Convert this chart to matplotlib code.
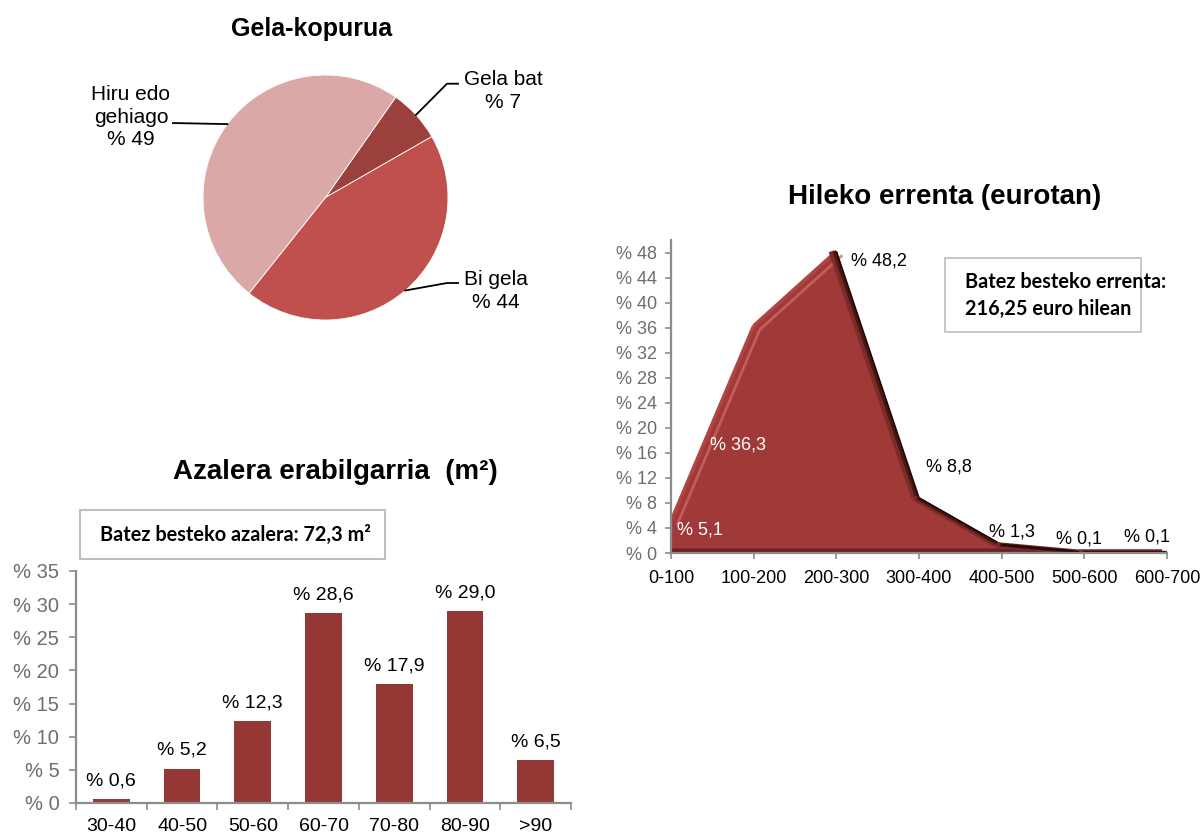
import numpy as np
import matplotlib.pyplot as plt
from matplotlib import transforms
from matplotlib.patches import Rectangle

plt.rcParams['font.family'] = ['Liberation Sans', 'DejaVu Sans']

# --- Gela-kopurua (pie) ---
room_labels = ['Gela bat', 'Bi gela', 'Hiru edo\ngehiago']
room_shares = [7, 44, 49]
room_colors = ['#9C403E', '#C0504D', '#D9A8A7']

# --- Hileko errenta (area) ---
income_bins = ['0-100', '100-200', '200-300', '300-400', '400-500', '500-600', '600-700']
income_shares = [5.1, 36.3, 48.2, 8.8, 1.3, 0.1, 0.1]
income_yticks = list(range(0, 49, 4))

# --- Azalera erabilgarria (bars) ---
area_bins = ['30-40', '40-50', '50-60', '60-70', '70-80', '80-90', '>90']
area_shares = [0.6, 5.2, 12.3, 28.6, 17.9, 29.0, 6.5]
area_yticks = list(range(0, 36, 5))

W, H = 1202, 834
fig = plt.figure(figsize=(W / 100, H / 100), dpi=100)

GRAY_AXIS = '#8C8C8C'
GRAY_TEXT = '#6E6E6E'
BOX_FONT = ['Lato', 'DejaVu Sans']


def rect(l, t, r, b):
    return [l / W, 1 - b / H, (r - l) / W, (b - t) / H]


def fig_xy(x, y):
    return x / W, 1 - y / H


def pct(v, decimals=1):
    return '% ' + f'{v:.{decimals}f}'.replace('.', ',')


# ================= Pie =================
axp = fig.add_axes(rect(203, 75, 448, 320))
wedges, _ = axp.pie(room_shares, colors=room_colors, startangle=55,
                    counterclock=False,
                    wedgeprops=dict(edgecolor='white', linewidth=0.6))
axp.set_xlim(-1, 1)
axp.set_ylim(-1, 1)
axp.set_aspect('equal')
axp.axis('off')

# label text position and elbow of the leader, in pie units
label_layout = [
    dict(text=(1.449, 0.869), elbow=[(0.992, 0.929), (1.082, 0.929)]),
    dict(text=(1.392, -0.763), elbow=[(0.992, -0.698), (1.082, -0.698)]),
    dict(text=(-1.588, 0.657), elbow=[(-1.245, 0.608)]),
]
for w, lab, share, lay in zip(wedges, room_labels, room_shares, label_layout):
    mid = np.deg2rad((w.theta1 + w.theta2) / 2)
    pts = [(np.cos(mid), np.sin(mid))] + lay['elbow']
    xs, ys = zip(*pts)
    axp.plot(xs, ys, color='black', lw=1.3, clip_on=False)
    axp.text(lay['text'][0], lay['text'][1], f'{lab}\n% {share}',
             ha='center', va='center', fontsize=15, linespacing=1.22,
             clip_on=False)

fig.text(*fig_xy(312, 29), 'Gela-kopurua', ha='center', va='center',
         fontsize=18, fontweight='bold')

# ================= Area =================
axa = fig.add_axes(rect(671, 240, 1167, 553))
xi = np.arange(len(income_bins))
vals = np.array(income_shares)
fill_col = '#A03A38'
axa.fill_between(xi, vals, color=fill_col, lw=0, zorder=2)
axa.fill_between(xi, np.minimum(vals, 0.8), color='#6A2221', lw=0, zorder=2.1)

# bevel: light rim on rising edges, dark rim on falling edges
shift_in = transforms.offset_copy(axa.transData, fig=fig, x=6, y=-4, units='dots')
shift_in2 = transforms.offset_copy(axa.transData, fig=fig, x=-2, y=0, units='dots')
shift_in3 = transforms.offset_copy(axa.transData, fig=fig, x=-5, y=0, units='dots')
for i in range(len(vals) - 1):
    seg_x = xi[i:i + 2]
    seg_y = vals[i:i + 2]
    if seg_y[1] > seg_y[0]:
        axa.plot(seg_x, seg_y, color='#AE4542', lw=2.5, zorder=3,
                 solid_capstyle='butt')
        axa.plot(seg_x, seg_y, color='#D06A66', lw=2.0, alpha=0.75, zorder=3,
                 transform=shift_in, solid_capstyle='butt')
    else:
        axa.plot(seg_x, seg_y, color='#7E2A28', lw=4, zorder=3,
                 transform=shift_in3, solid_capstyle='butt')
        axa.plot(seg_x, seg_y, color='#4A1616', lw=2.5, zorder=3,
                 transform=shift_in2, solid_capstyle='butt')
        axa.plot(seg_x, seg_y, color='#1E0808', lw=1.2, zorder=3,
                 solid_capstyle='butt')

axa.set_xlim(0, len(income_bins) - 1)
axa.set_ylim(0, 50)
axa.set_xticks(xi)
axa.set_xticklabels(income_bins, fontsize=13, color='black')
axa.set_yticks(income_yticks)
axa.set_yticklabels([pct(v, 0) for v in income_yticks], fontsize=13,
                    color=GRAY_TEXT)
for s in ('top', 'right'):
    axa.spines[s].set_visible(False)
for s in ('left', 'bottom'):
    axa.spines[s].set_color(GRAY_AXIS)
    axa.spines[s].set_linewidth(1.6)
    axa.spines[s].set_zorder(5)
axa.tick_params(axis='both', direction='out', length=4, width=1.2,
                color=GRAY_AXIS)
axa.tick_params(axis='y', pad=6)
axa.tick_params(axis='x', pad=8)
axa.set_facecolor('none')

# label offsets from each point: (right, up) in pixels
income_offsets = [(29, -9), (-16, -119), (43, -10), (30, 31), (10, 13),
                  (-5, 13), (-20, 15)]
income_label_colors = ['white', 'white', 'black', 'black', 'black', 'black',
                       'black']
for x, v, off, c in zip(xi, vals, income_offsets, income_label_colors):
    axa.annotate(pct(v), (x, v), xytext=off,
                 textcoords='offset pixels', ha='center', va='center',
                 fontsize=13, color=c, zorder=6, annotation_clip=False)

fig.text(*fig_xy(945, 197), 'Hileko errenta (eurotan)', ha='center',
         va='center', fontsize=20, fontweight='bold')

fig.patches.append(Rectangle(fig_xy(945, 332), (1141 - 945) / W,
                             (332 - 258) / H, transform=fig.transFigure,
                             facecolor='white', edgecolor='#BFBFBF', lw=1.2,
                             zorder=1))
fig.text(*fig_xy(965, 282), 'Batez besteko errenta:', ha='left', va='center',
         fontsize=14.3, fontweight='bold', family=BOX_FONT, zorder=7)
fig.text(*fig_xy(965, 309), '216,25 euro hilean', ha='left', va='center',
         fontsize=14.3, fontweight='bold', family=BOX_FONT, zorder=7)

# ================= Bars =================
axb = fig.add_axes(rect(76, 571, 571, 803))
xb = np.arange(len(area_bins))
axb.bar(xb, area_shares, width=0.52, color='#953735', zorder=2)
axb.set_xlim(-0.5, len(area_bins) - 0.5)
axb.set_ylim(0, 35)
axb.set_xticks(np.arange(len(area_bins) + 1) - 0.5)
axb.set_xticklabels([])
axb.set_xticks(xb, minor=True)
axb.set_xticklabels(area_bins, minor=True, fontsize=14, color='black')
axb.tick_params(axis='x', which='minor', length=0, pad=11)
axb.tick_params(axis='x', which='major', direction='out', length=5,
                width=1.2, color=GRAY_AXIS)
axb.set_yticks(area_yticks)
axb.set_yticklabels([pct(v, 0) for v in area_yticks], fontsize=14.5,
                    color=GRAY_TEXT)
axb.tick_params(axis='y', direction='out', length=5, width=1.2,
                color=GRAY_AXIS, pad=7)
for s in ('top', 'right'):
    axb.spines[s].set_visible(False)
for s in ('left', 'bottom'):
    axb.spines[s].set_color(GRAY_AXIS)
    axb.spines[s].set_linewidth(1.6)

for x, v in zip(xb, area_shares):
    axb.annotate(pct(v), (x, v), xytext=(0, 7), textcoords='offset points',
                 ha='center', va='bottom', fontsize=14, color='black')

fig.text(*fig_xy(335, 472), 'Azalera erabilgarria  (m²)', ha='center',
         va='center', fontsize=20, fontweight='bold')

fig.patches.append(Rectangle(fig_xy(80, 559), (385 - 80) / W,
                             (559 - 510) / H, transform=fig.transFigure,
                             facecolor='white', edgecolor='#BFBFBF', lw=1.5,
                             zorder=1))
fig.text(*fig_xy(235, 535), 'Batez besteko azalera: 72,3 m²', ha='center',
         va='center', fontsize=14.3, fontweight='bold', family=BOX_FONT)

fig.savefig('out.png', dpi=100)
